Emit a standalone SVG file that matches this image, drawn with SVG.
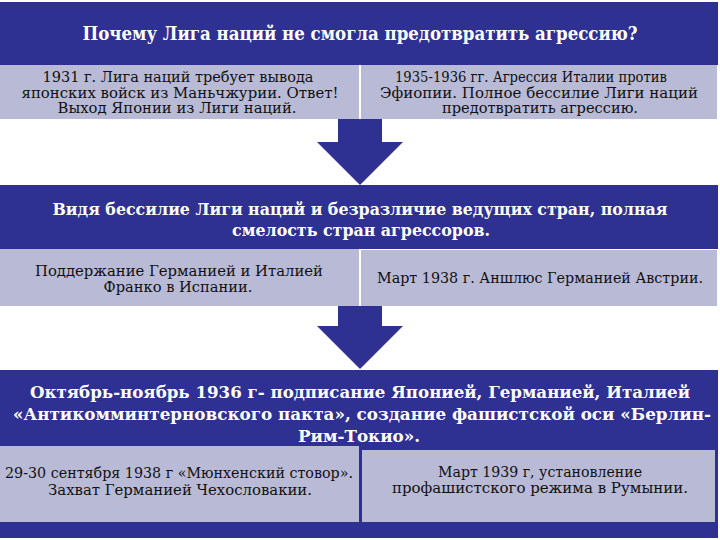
<svg xmlns="http://www.w3.org/2000/svg" width="720" height="540" viewBox="0 0 720 540">
<style>
.dark{fill:#2e3192}
.light{fill:#b9bad6}
.arrow{fill:#2e3192}
.tw{font-weight:bold;fill:#ffffff;text-anchor:middle}
.tb{fill:#111111;text-anchor:middle;font-size:14px}
</style>
<rect x="0" y="0" width="720" height="540" fill="#ffffff"/>
<g font-family="'DejaVu Serif', 'Liberation Serif', serif">
<g id="header">
<rect class="dark" x="0" y="2" width="718" height="63"/>
<text class="tw" x="360" y="40" font-size="19" textLength="555" lengthAdjust="spacingAndGlyphs">Почему Лига наций не смогла предотвратить агрессию?</text>
</g>
<g id="box-1931">
<rect class="light" x="0" y="65" width="359" height="54"/>
<text class="tb" x="178" y="82" textLength="271" lengthAdjust="spacingAndGlyphs">1931 г. Лига наций требует вывода</text>
<text class="tb" x="180" y="98" textLength="317" lengthAdjust="spacingAndGlyphs">японских войск из Маньчжурии. Ответ!</text>
<text class="tb" x="177" y="113" textLength="239" lengthAdjust="spacingAndGlyphs">Выход Японии из Лиги наций.</text>
</g>
<g id="box-1935">
<rect class="light" x="361" y="65" width="356" height="54"/>
<text class="tb" x="531" y="82" textLength="272" lengthAdjust="spacingAndGlyphs">1935-1936 гг. Агрессия Италии против</text>
<text class="tb" x="539" y="98" textLength="318" lengthAdjust="spacingAndGlyphs">Эфиопии. Полное бессилие Лиги наций</text>
<text class="tb" x="540" y="113" textLength="196" lengthAdjust="spacingAndGlyphs">предотвратить агрессию.</text>
</g>
<g id="middle">
<rect class="dark" x="0" y="185" width="718" height="64"/>
<text class="tw" x="360" y="215" font-size="17" textLength="615" lengthAdjust="spacingAndGlyphs">Видя бессилие Лиги наций и безразличие ведущих стран, полная</text>
<text class="tw" x="361" y="236" font-size="17" textLength="258" lengthAdjust="spacingAndGlyphs">смелость стран агрессоров.</text>
</g>
<g id="box-franco">
<rect class="light" x="0" y="249" width="359" height="57"/>
<text class="tb" x="179" y="276" textLength="288" lengthAdjust="spacingAndGlyphs">Поддержание Германией и Италией</text>
<text class="tb" x="178" y="292" textLength="149" lengthAdjust="spacingAndGlyphs">Франко в Испании.</text>
</g>
<g id="box-anschluss">
<rect class="light" x="361" y="250" width="356" height="56"/>
<text class="tb" x="540" y="283" textLength="326" lengthAdjust="spacingAndGlyphs">Март 1938 г. Аншлюс Германией Австрии.</text>
</g>
<g id="bottom">
<rect class="dark" x="0" y="370" width="718" height="168"/>
<text class="tw" x="360" y="398" font-size="17" textLength="660" lengthAdjust="spacingAndGlyphs">Октябрь-ноябрь 1936 г- подписание Японией, Германией, Италией</text>
<text class="tw" x="362" y="420" font-size="16" textLength="698" lengthAdjust="spacingAndGlyphs">«Антикомминтерновского пакта», создание фашистской оси «Берлин-</text>
<text class="tw" x="359" y="442" font-size="17" textLength="122" lengthAdjust="spacingAndGlyphs">Рим-Токио».</text>
</g>
<g id="box-munich">
<rect class="light" x="0" y="446" width="359" height="76"/>
<text class="tb" x="179" y="478" textLength="348" lengthAdjust="spacingAndGlyphs">29-30 сентября 1938 г «Мюнхенский стовор».</text>
<text class="tb" x="180" y="495" textLength="264" lengthAdjust="spacingAndGlyphs">Захват Германией Чехословакии.</text>
</g>
<g id="box-romania">
<rect class="light" x="362" y="450" width="353" height="72"/>
<text class="tb" x="540" y="477" textLength="204" lengthAdjust="spacingAndGlyphs">Март 1939 г, установление</text>
<text class="tb" x="540" y="493" textLength="296" lengthAdjust="spacingAndGlyphs">профашистского режима в Румынии.</text>
</g>
</g>
<g id="connectors">
<polygon class="arrow" points="338,119 382,119 382,142 403,142 360,185 317,142 338,142"/>
<polygon class="arrow" points="338,306 382,306 382,326 403,326 360,369 317,326 338,326"/>
</g>
</svg>
